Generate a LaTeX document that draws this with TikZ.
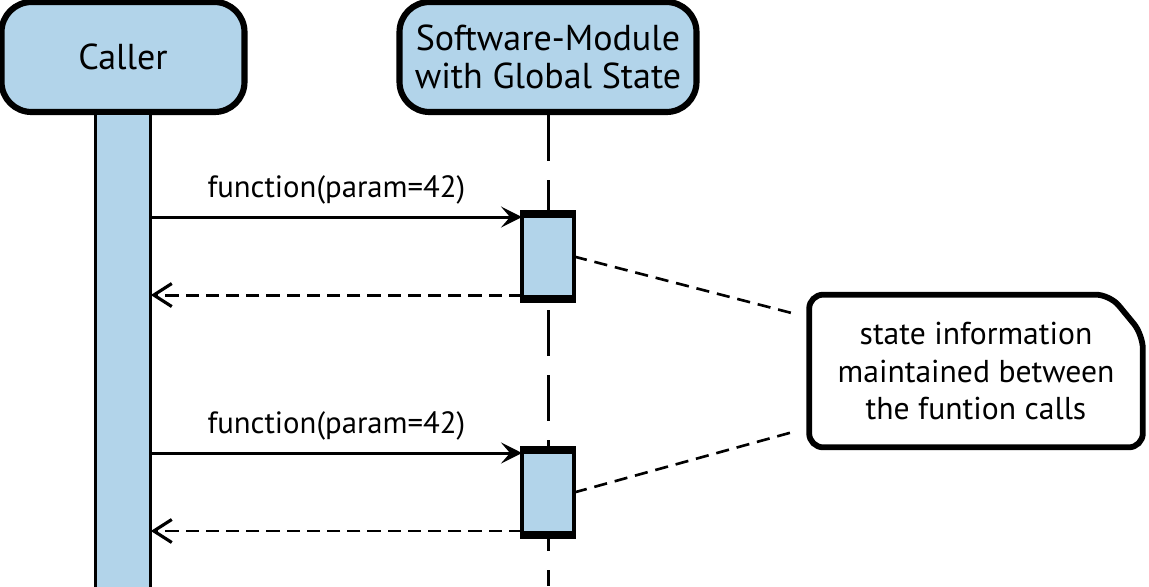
\documentclass[tikz,border=0pt]{standalone}
\usepackage{fontspec}
\setmainfont{PT Sans}
\usetikzlibrary{positioning,arrows.meta,calc}
\definecolor{lifeblue}{RGB}{178,212,234}

\begin{document}
\begin{tikzpicture}[x=0.02cm,y=-0.02cm,>={Stealth[length=4.2mm,width=4.2mm,inset=1.8mm]}]
  \useasboundingbox (0,0) rectangle (1149,586);
  \tikzset{
    head/.style={rectangle,rounded corners=0.6cm,draw=black,line width=3.5pt,fill=lifeblue,
      minimum height=2.2cm,align=center,font=\fontsize{20.5}{21.5}\selectfont},
    lifebar/.style={rectangle,fill=lifeblue,minimum width=1.1cm,minimum height=9.46cm},
    activation/.style={rectangle,fill=lifeblue,draw=black,line width=2.2pt,outer sep=0pt,
      minimum width=1.04cm,minimum height=1.7cm},
    % edge styles
    lifeline/.style={line width=1.7pt,dash pattern=on 26pt off 11pt},
    barside/.style={line width=1.8pt},
    actedge/.style={line width=4.5pt},
    call/.style={->,line width=1.7pt},
    reply/.style={-{Straight Barb[length=3.6mm,width=4.6mm,line width=1.8pt]},line width=1.7pt,
      dash pattern=on 7.5pt off 4pt},
    memo/.style={line width=1.5pt,dash pattern=on 7.5pt off 4.5pt,shorten >=0.26cm},
    % label styles
    msg/.style={font=\fontsize{17.5}{20}\selectfont,above=3pt},
    note/.style={align=center,minimum width=6.66cm,minimum height=3.04cm,
      font=\fontsize{18}{21.5}\selectfont},
    notebox/.style={line width=3.3pt,rounded corners=8pt}
  }

  %%% Lifeline heads

  \node[head,minimum width=4.86cm] (caller) at (123,57) {Caller};
  \node[head,minimum width=5.94cm] (module) at (548,57) {Software-Module\\with Global State};

  % Caller bar
  \node[lifebar,below=0pt of caller] (callerbar) {};
  \draw[barside] (callerbar.north west) -- (callerbar.south west);
  \draw[barside] (callerbar.north east) -- (callerbar.south east);

  % Module lifeline
  \coordinate (modend) at (548,586);
  \draw[lifeline] (module.south) -- (modend);

  %%% Activations

  \node[activation,below=1.98cm of module] (act1) {};
  \node[activation,below=3.02cm of act1] (act2) {};
  \foreach \a in {act1,act2} {
    \draw[actedge] ([xshift=-1pt]\a.north west) -- ([xshift=1pt]\a.north east);
    \draw[actedge] ([xshift=-1pt]\a.south west) -- ([xshift=1pt]\a.south east);
  }

  %%% Calls and returns

  \foreach \a in {act1,act2} {
    \draw[call] ($(callerbar.east |- \a.north west)+(0,3)$) -- node[msg] {function(param=42)}
      ($(\a.north west)+(0,3)$);
    \draw[reply] ($(\a.south west)+(0,-4)$) -- ($(callerbar.east |- \a.south west)+(0,-4)$);
  }

  %%% Note

  \node[note] (note) at (976,371) {state information\\maintained between\\the funtion calls};
  \draw[notebox] (note.south west) -- (note.north west) -- ([xshift=-0.66cm]note.north east)
    -- ([yshift=-0.8cm]note.north east) -- (note.south east) -- cycle;

  \draw[memo] (act1.east) -- ($(note.north west)!0.15!(note.south west)$);
  \draw[memo] (act2.east) -- ($(note.north west)!0.87!(note.south west)$);

\end{tikzpicture}
\end{document}
